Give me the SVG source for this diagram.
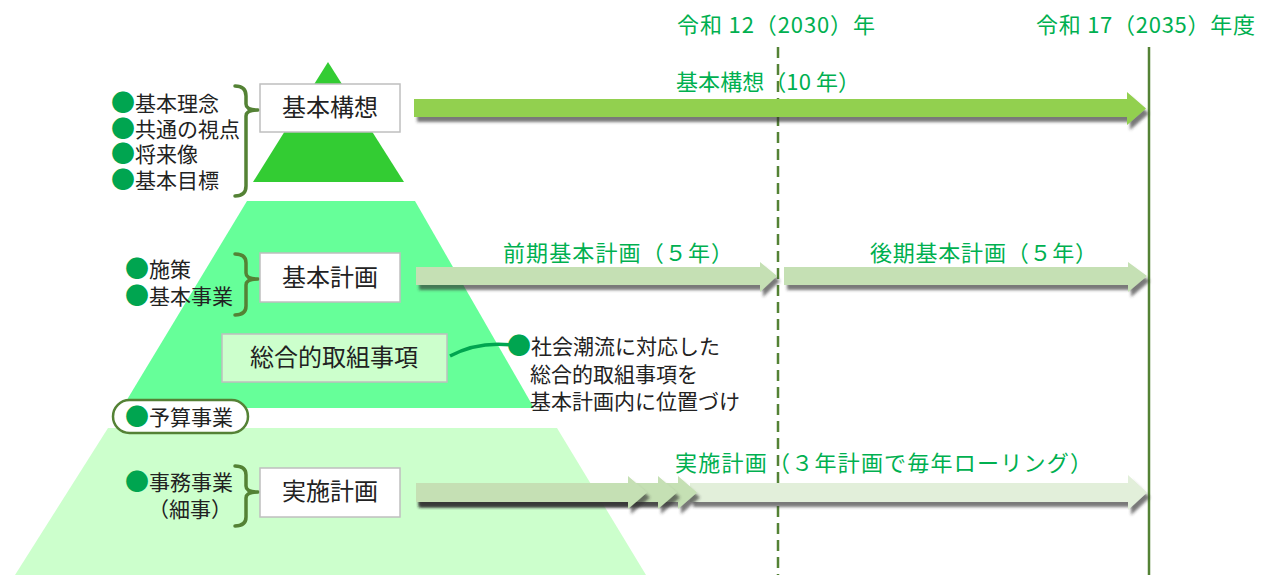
<svg xmlns="http://www.w3.org/2000/svg" width="1268" height="575" viewBox="0 0 1268 575">
<defs>
<style>
text{font-family:"Noto Sans CJK JP","Noto Sans",sans-serif;}
.t{fill:#222;font-size:21px;}
.bx{fill:#222;font-size:24px;text-anchor:middle;}
.lb{fill:#00B050;font-size:22px;}
.bul{fill:#00A550;font-size:24px;}
.box{fill:#fff;stroke:#BFBFBF;stroke-width:1.5;}
.brace{fill:none;stroke:#548235;stroke-width:3.5;stroke-linecap:round;stroke-linejoin:round;}
</style>
<filter id="sh" x="-5%" y="-50%" width="115%" height="250%">
<feDropShadow dx="3" dy="5" stdDeviation="1.6" flood-color="#333" flood-opacity="0.65"/>
</filter>
</defs>
<rect width="1268" height="575" fill="#fff"/>

<g id="pyramid">
<polygon points="328,62 404,182 253,182" fill="#33CC33"/>
<polygon points="247,201 415,201 534,408 122,408" fill="#66FF99"/>
<polygon points="108,428 557,428 646,575 15,575" fill="#CCFFCC"/>
</g>

<g id="timeline">
<text class="lb" x="677" y="33" font-size="21" textLength="198">令和 12（2030）年</text>
<text class="lb" x="1036" y="33" font-size="21" textLength="219">令和 17（2035）年度</text>
<line x1="778" y1="47" x2="778" y2="575" stroke="#548235" stroke-width="2.5" stroke-dasharray="11,6"/>
<line x1="1149" y1="47" x2="1149" y2="575" stroke="#548235" stroke-width="2.5"/>
</g>

<g id="connectors">
<polygon filter="url(#sh)" fill="#92D050" points="414,99 1127,99 1127,92 1146,108.5 1127,125 1127,117 414,117"/>
<polygon filter="url(#sh)" fill="#C5E0B4" points="416,267 760,267 760,262 777,276 760,292 760,285 416,285"/>
<polygon filter="url(#sh)" fill="#C5E0B4" points="784,267 1128,267 1128,262 1147,276 1128,292 1128,285 784,285"/>
<polygon filter="url(#sh)" fill="#E2EFDA" points="690,483 1128,483 1128,475 1147,492.5 1128,510 1128,502 690,502"/>
<polygon filter="url(#sh)" fill="#C5E0B4" points="416,483 678,483 678,476 697,492.5 678,509 678,502 416,502"/>
<polygon filter="url(#sh)" fill="#C5E0B4" points="416,483 658,483 658,476 677,492.5 658,509 658,502 416,502"/>
<polygon filter="url(#sh)" fill="#C5E0B4" points="416,483 628,483 628,476 647,492.5 628,509 628,502 416,502"/>
<path d="M450,356 Q478,341 512,345" fill="none" stroke="#00A550" stroke-width="3.5"/>
</g>

<g id="labels">
<text class="lb" x="676" y="90" textLength="184">基本構想（10 年）</text>
<text class="lb" x="503" y="261" font-size="23" textLength="230">前期基本計画（５年）</text>
<text class="lb" x="870" y="261" font-size="23" textLength="227">後期基本計画（５年）</text>
<text class="lb" x="675" y="471" font-size="23" textLength="417">実施計画（３年計画で毎年ローリング）</text>
</g>

<g id="node-kihonkoso">
<path class="brace" d="M235,86 Q246,86 246,96 L246,104 Q246,110 258,110 Q246,110 246,116 L246,186 Q246,196 235,196"/>
<text class="t" x="111" y="111"><tspan class="bul">●</tspan>基本理念</text>
<text class="t" x="111" y="136.5"><tspan class="bul">●</tspan>共通の視点</text>
<text class="t" x="111" y="162"><tspan class="bul">●</tspan>将来像</text>
<text class="t" x="111" y="187.5"><tspan class="bul">●</tspan>基本目標</text>
<rect class="box" x="260" y="84" width="140" height="48"/>
<text class="bx" x="330" y="116">基本構想</text>
</g>

<g id="node-kihonkeikaku">
<path class="brace" d="M235,254 Q246,254 246,263 L246,273 Q246,279 258,279 Q246,279 246,285 L246,306 Q246,315 235,315"/>
<text class="t" x="125" y="277"><tspan class="bul">●</tspan>施策</text>
<text class="t" x="125" y="304"><tspan class="bul">●</tspan>基本事業</text>
<rect class="box" x="260" y="253" width="140" height="49"/>
<text class="bx" x="330" y="286">基本計画</text>
</g>

<g id="node-sogo">
<rect x="222" y="334" width="225" height="48" fill="#CCFFCC" stroke="#BFBFBF" stroke-width="1.5"/>
<text class="bx" x="334" y="366">総合的取組事項</text>
</g>

<g id="node-note">
<text class="t" x="507" y="354"><tspan class="bul" font-size="22">●</tspan>社会潮流に対応した</text>
<text class="t" x="530" y="382">総合的取組事項を</text>
<text class="t" x="530" y="409">基本計画内に位置づけ</text>
</g>

<g id="node-yosan">
<rect x="113" y="400" width="135" height="33" rx="16.5" fill="#fff" stroke="#548235" stroke-width="2.5"/>
<text class="t" x="125" y="425"><tspan class="bul">●</tspan>予算事業</text>
</g>

<g id="node-jisshi">
<path class="brace" d="M235,466 Q246,466 246,475 L246,486 Q246,492 258,492 Q246,492 246,498 L246,517 Q246,526 235,526"/>
<text class="t" x="125" y="490"><tspan class="bul">●</tspan>事務事業</text>
<text class="t" x="148" y="517">（細事）</text>
<rect class="box" x="260" y="468" width="140" height="49"/>
<text class="bx" x="330" y="500">実施計画</text>
</g>
</svg>
